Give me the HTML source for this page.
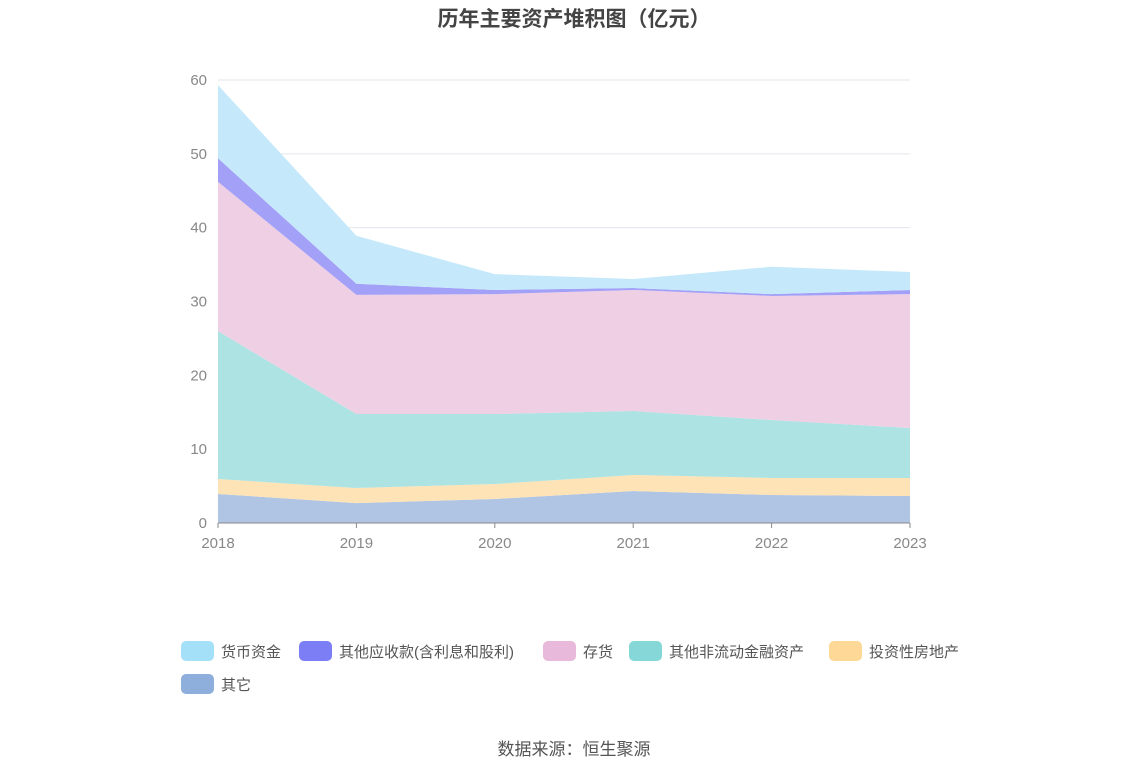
<!DOCTYPE html>
<html><head><meta charset="utf-8"><style>
body{margin:0;background:#fff;font-family:"Liberation Sans","Noto Sans CJK SC",sans-serif;}
svg text{font-family:"Liberation Sans","Noto Sans CJK SC",sans-serif;}
</style></head><body>
<svg id="chart" width="1148" height="776">
<text x="574" y="26" text-anchor="middle" font-size="21" font-weight="bold" fill="#444">历年主要资产堆积图（亿元）</text>
<g id="grid"></g><g id="areas"></g><g id="axes"></g><g id="legend"></g>
<text x="574" y="755" text-anchor="middle" font-size="17" fill="#555">数据来源：恒生聚源</text>
</svg>
<script>
const years=["2018","2019","2020","2021","2022","2023"];
const yTicks=[0,10,20,30,40,50,60];
const seriesNames=["其它","投资性房地产","其他非流动金融资产","存货","其他应收款(含利息和股利)","货币资金"];
const other=[3.93,2.7,3.25,4.33,3.8,3.66];
const investProp=[2.03,2.04,2.03,2.17,2.3,2.44];
const nonCurFin=[20.04,10.02,9.48,8.67,7.85,6.77];
const inventory=[20.2,16.14,16.24,16.39,16.8,18.13];
const otherRecv=[3.2,1.5,0.56,0.27,0.25,0.56];
const cash=[9.9,6.5,2.14,1.22,3.7,2.44];
const series=[other,investProp,nonCurFin,inventory,otherRecv,cash];
const fills=["#b0c4e4","#fde3b6","#ade3e3","#efcfe4","#a3a1f7","#c5e9fb"];
const legendColors=["#8eaedb","#fed897","#86d8d8","#e8b9da","#7b7ef5","#a5e0f9"];
const slugs=["other","investment-property","other-noncurrent-financial","inventory","other-receivables","cash"];
const NS="http://www.w3.org/2000/svg";
const x0=218,x1=910,yB=523,yT=80,ymax=60;
const xs=i=>x0+(x1-x0)*i/(years.length-1);
const ys=v=>yB-(yB-yT)*v/ymax;
function mk(t,a,p){const e=document.createElementNS(NS,t);for(const k in a)e.setAttribute(k,a[k]);p.appendChild(e);return e;}
const grid=document.getElementById('grid'),axes=document.getElementById('axes'),areas=document.getElementById('areas'),legend=document.getElementById('legend');
yTicks.forEach(v=>{
 if(v>0){const l=mk('line',{x1:x0,x2:x1,y1:ys(v),y2:ys(v),stroke:'#e3e6ee'},grid);
 
 }
 const t=mk('text',{x:207,y:ys(v)+5,'text-anchor':'end','font-size':15,fill:'#888'},axes);t.textContent=v;
 
 
});
const ax=mk('line',{x1:x0,x2:x1,y1:yB,y2:yB,stroke:'#888'},axes);


years.forEach((y,i)=>{
 mk('line',{x1:xs(i),x2:xs(i),y1:yB,y2:yB+5,stroke:'#888'},axes);
 const t=mk('text',{x:xs(i),y:548,'text-anchor':'middle','font-size':15,fill:'#888'},axes);t.textContent=y;
 
 
});
let base=years.map(()=>0);
series.forEach((s,k)=>{
 const top=base.map((b,i)=>b+s[i]);
 let d='M'+years.map((_,i)=>xs(i)+','+ys(top[i])).join('L');
 for(let i=years.length-1;i>=0;i--)d+='L'+xs(i)+','+ys(base[i]);
 const p=mk('path',{d:d+'Z',fill:fills[k]},areas);
 
 
 base=top;
});
const order=[5,4,3,2,1,0];
const pos=[[181,651],[299,651],[543,651],[629,651],[829,651],[181,684]];
order.forEach((k,j)=>{
 const [x,y]=pos[j];
 const g=mk('g',{},legend);
 
 
 mk('rect',{x:x,y:y-10,width:33,height:20,rx:5,fill:legendColors[k]},g);
 const t=mk('text',{x:x+40,y:y+6,'font-size':15,fill:'#555'},g);t.textContent=seriesNames[k];
});
</script>
</body></html>
